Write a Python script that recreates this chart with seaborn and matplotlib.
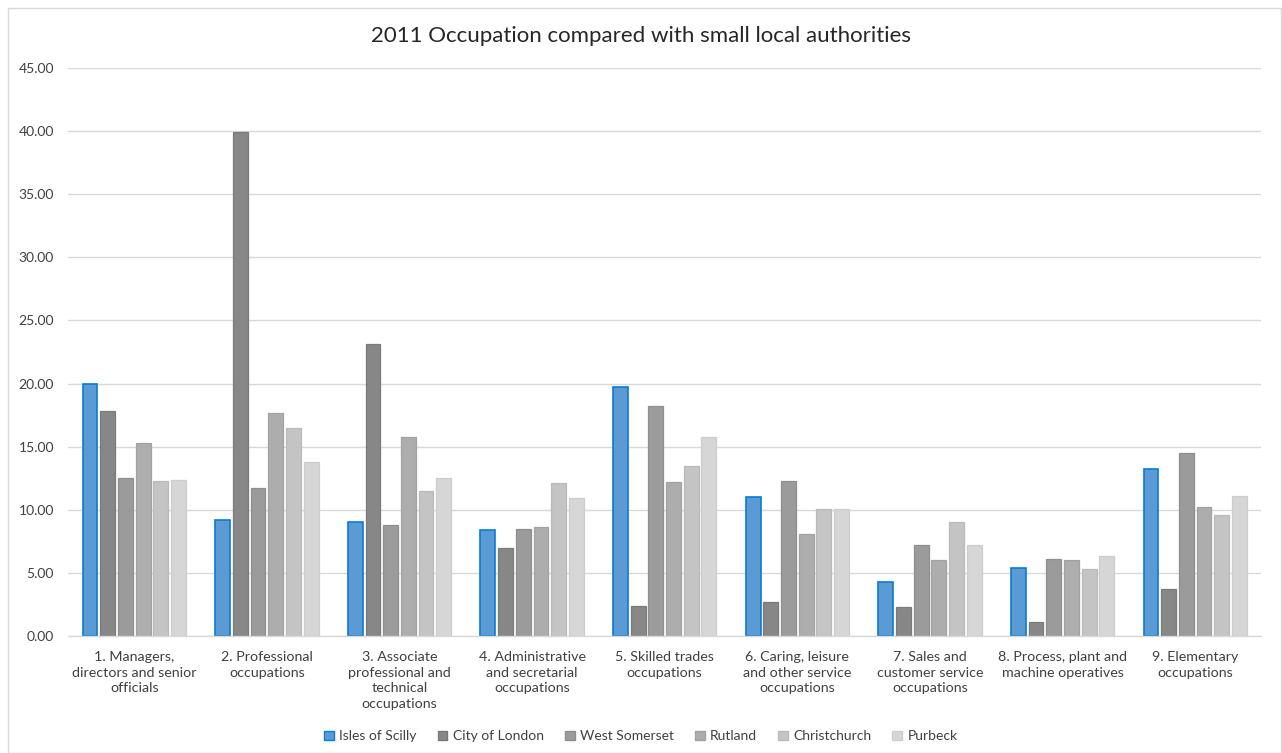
import matplotlib
matplotlib.use("Agg")
import matplotlib.pyplot as plt
import seaborn as sns
import pandas as pd
from matplotlib.patches import Rectangle, Patch

categories = [
    "1. Managers,\ndirectors and senior\nofficials",
    "2. Professional\noccupations",
    "3. Associate\nprofessional and\ntechnical\noccupations",
    "4. Administrative\nand secretarial\noccupations",
    "5. Skilled trades\noccupations",
    "6. Caring, leisure\nand other service\noccupations",
    "7. Sales and\ncustomer service\noccupations",
    "8. Process, plant and\nmachine operatives",
    "9. Elementary\noccupations",
]
series_names = ["Isles of Scilly", "City of London", "West Somerset", "Rutland", "Christchurch", "Purbeck"]
isles_of_scilly = [20.0, 9.2, 9.0, 8.4, 19.7, 11.0, 4.3, 5.4, 13.2]
city_of_london = [17.8, 39.9, 23.1, 7.0, 2.4, 2.7, 2.3, 1.1, 3.7]
west_somerset = [12.5, 11.7, 8.8, 8.5, 18.2, 12.3, 7.2, 6.1, 14.5]
rutland = [15.3, 17.7, 15.8, 8.6, 12.2, 8.1, 6.0, 6.0, 10.2]
christchurch = [12.3, 16.5, 11.5, 12.1, 13.5, 10.1, 9.0, 5.3, 9.6]
purbeck = [12.35, 13.8, 12.5, 10.9, 15.8, 10.1, 7.2, 6.3, 11.1]
yticks = [0, 5, 10, 15, 20, 25, 30, 35, 40, 45]

all_series = [isles_of_scilly, city_of_london, west_somerset, rutland, christchurch, purbeck]
rows = []
for name, vals in zip(series_names, all_series):
    for c, v in zip(categories, vals):
        rows.append({"Occupation": c, "Area": name, "Value": v})
df = pd.DataFrame(rows)

fills = ["#5B9BD5", "#878787", "#9B9B9B", "#ADADAD", "#C4C4C4", "#D6D6D6"]
edges = ["#0A7BD0", "#7A7A7A", "#8E8E8E", "#A2A2A2", "#BABABA", "#CDCDCD"]

sns.set_theme(style="white")
plt.rcParams["font.family"] = ["Lato", "DejaVu Sans"]

fig = plt.figure(figsize=(12.82, 7.53), dpi=100)
ax = fig.add_axes([0.053, 0.1554, 0.931, 0.7543])

sns.barplot(data=df, x="Occupation", y="Value", hue="Area", order=categories,
            hue_order=series_names, palette=fills, width=0.8, gap=0.16,
            ax=ax, legend=False, saturation=1)

n = len(categories)
for i, patch in enumerate(ax.patches[: n * len(series_names)]):
    s = i // n
    patch.set_edgecolor(edges[s])
    patch.set_linewidth(1.2 if s == 0 else 0.9)

ax.set_ylim(0, 45)
ax.set_xlim(-0.5, 8.5)
ax.set_yticks(yticks)
ax.set_yticklabels([f"{t:.2f}" for t in yticks], fontsize=10, color="#404040")
ax.tick_params(axis="x", labelsize=10.3, labelcolor="#404040", length=0, pad=11)
for lbl in ax.get_xticklabels():
    lbl.set_linespacing(1.35)
ax.tick_params(axis="y", length=0, pad=10)
ax.set_xlabel("")
ax.set_ylabel("")
ax.grid(axis="y", color="#D9D9D9", linewidth=1)
ax.set_axisbelow(True)
for sp in ["left", "right", "top"]:
    ax.spines[sp].set_visible(False)
ax.spines["bottom"].set_color("#D9D9D9")
ax.spines["bottom"].set_linewidth(1)

fig.text(0.5, 0.952, "2011 Occupation compared with small local authorities",
         ha="center", va="center", fontsize=16, color="#262626")

handles = [Patch(facecolor=f, edgecolor=e, linewidth=1) for f, e in zip(fills, edges)]
fig.legend(handles, series_names, loc="center", bbox_to_anchor=(0.5, 0.022), ncol=6,
           frameon=False, fontsize=10, handlelength=0.7, handleheight=0.7,
           handletextpad=0.4, columnspacing=1.5, labelcolor="#404040")

fig.patches.append(Rectangle((8 / 1282, 0.0), 1 - 9 / 1282, 1 - 8 / 753,
                             transform=fig.transFigure, fill=False,
                             edgecolor="#D9D9D9", linewidth=1))

fig.savefig("out.png", dpi=100)
